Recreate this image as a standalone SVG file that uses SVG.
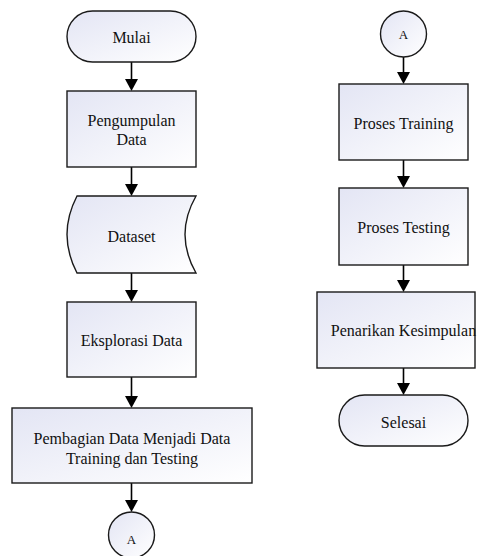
<svg xmlns="http://www.w3.org/2000/svg" width="478" height="556" viewBox="0 0 478 556">
<defs>
<linearGradient id="fillGrad" x1="0" y1="0" x2="1" y2="1">
<stop offset="0" stop-color="#e3e5f4"/>
<stop offset="1" stop-color="#ffffff"/>
</linearGradient>
<marker id="arrow" markerUnits="userSpaceOnUse" markerWidth="13" markerHeight="13" viewBox="0 0 12 13" refX="8" refY="6.5" orient="auto">
<path d="M0,0 L12,6.5 L0,13 Z" fill="#000"/>
</marker>
</defs>
<style>
.shape { fill: url(#fillGrad); stroke: #1a1a1a; stroke-width: 1.4; }
.label { font-family: "Liberation Serif", "Times New Roman", serif; font-size: 16px; fill: #111; text-anchor: middle; }
.small { font-size: 13px; }
.conn { stroke: #000; stroke-width: 1.6; fill: none; marker-end: url(#arrow); }
</style>
<rect width="478" height="556" fill="#ffffff"/>
<g id="connectors">
<line class="conn" x1="131.5" y1="62" x2="131.5" y2="87"/>
<line class="conn" x1="131.5" y1="167" x2="131.5" y2="192"/>
<line class="conn" x1="131.5" y1="273" x2="131.5" y2="298"/>
<line class="conn" x1="131.5" y1="377" x2="131.5" y2="404"/>
<line class="conn" x1="131.5" y1="483" x2="131.5" y2="508"/>
<line class="conn" x1="403.5" y1="57" x2="403.5" y2="80"/>
<line class="conn" x1="403.5" y1="160" x2="403.5" y2="184"/>
<line class="conn" x1="403.5" y1="265" x2="403.5" y2="288"/>
<line class="conn" x1="403.5" y1="368" x2="403.5" y2="391"/>
</g>
<g id="mulai">
<rect class="shape" x="67" y="11" width="129" height="51" rx="25.5"/>
<text class="label" x="131.5" y="42.5">Mulai</text>
</g>
<g id="pengumpulan">
<rect class="shape" x="67" y="91" width="129" height="76"/>
<text class="label" x="131.5" y="125.5">Pengumpulan</text>
<text class="label" x="131.5" y="145">Data</text>
</g>
<g id="dataset">
<path class="shape" d="M77,196 L196,196 Q174,234.5 196,273 L77,273 Q57,234.5 77,196 Z"/>
<text class="label" x="131.5" y="241.5">Dataset</text>
</g>
<g id="eksplorasi">
<rect class="shape" x="67" y="302" width="129" height="75"/>
<text class="label" x="131.5" y="346">Eksplorasi Data</text>
</g>
<g id="pembagian">
<rect class="shape" x="12" y="408" width="240" height="75"/>
<text class="label" x="132" y="443.5">Pembagian Data Menjadi Data</text>
<text class="label" x="132" y="463.5">Training dan Testing</text>
</g>
<g id="konektor-a1">
<circle class="shape" cx="131.5" cy="535" r="23"/>
<text class="label small" x="131.5" y="543.5">A</text>
</g>
<g id="konektor-a2">
<circle class="shape" cx="403.5" cy="34" r="23"/>
<text class="label small" x="403.5" y="38.5">A</text>
</g>
<g id="proses-training">
<rect class="shape" x="339" y="84" width="129" height="76"/>
<text class="label" x="403.5" y="129">Proses Training</text>
</g>
<g id="proses-testing">
<rect class="shape" x="339" y="188" width="129" height="77"/>
<text class="label" x="403.5" y="233">Proses Testing</text>
</g>
<g id="penarikan">
<rect class="shape" x="317" y="292" width="158" height="76"/>
<text class="label" x="403.5" y="335.5">Penarikan Kesimpulan</text>
</g>
<g id="selesai">
<rect class="shape" x="339" y="395" width="129" height="51" rx="25.5"/>
<text class="label" x="403.5" y="428">Selesai</text>
</g>
</svg>
